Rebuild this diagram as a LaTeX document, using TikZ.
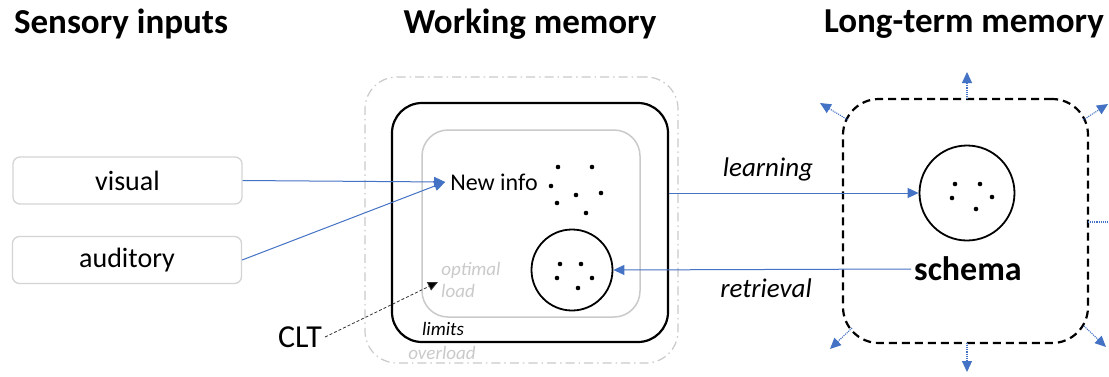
\documentclass[tikz,border=0pt]{standalone}
\usepackage{fontspec}
\setmainfont{Carlito}
\usetikzlibrary{arrows.meta,calc}
\definecolor{arrblue}{HTML}{4472C4}
\definecolor{lgray}{HTML}{CACACA}
\definecolor{boxgray}{HTML}{D4D4D4}
\begin{document}
\begin{tikzpicture}[x=1pt,y=-1pt,
  title/.style={font=\fontsize{35}{38}\selectfont\bfseries, inner sep=0pt},
  inbox/.style={draw=boxgray, line width=1.3pt, rounded corners=7pt, minimum width=229pt, minimum height=47pt, font=\fontsize{28}{30}\selectfont},
  bluearrow/.style={draw=arrblue, line width=1pt, -{Triangle[length=11pt,width=10pt]}},
  lbl/.style={font=\fontsize{27}{30}\selectfont\itshape, inner sep=0pt},
  small/.style={font=\fontsize{19}{21}\selectfont\itshape, inner sep=0pt},
  expand/.style={draw=arrblue, line width=1.1pt, densely dotted, -{Triangle[length=11pt,width=10pt,fill=arrblue]}},
  dot/.style={fill=black},
]
\useasboundingbox[fill=white] (0,0) rectangle (1109,376);

% titles
\node[title] (t1) at (121,24) {Sensory inputs};
\node[title] (t2) at (530,24) {Working memory};
\node[title] (t3) at (964,24) {Long-term memory};

% sensory inputs
\node[inbox] (vis) at (127.5,180.5) {visual};
\node[inbox] (aud) at (127,260) {auditory};
\node[font=\fontsize{32}{34}\selectfont, inner sep=3pt] (clt) at (300,337) {CLT};

% working memory
\node[draw=lgray, line width=1.2pt, dash pattern=on 9pt off 4pt on 1.5pt off 4pt, rounded corners=32pt, minimum width=313pt, minimum height=286pt] (wmouter) at (521.5,220) {};
\node[draw=black, line width=2.2pt, rounded corners=30pt, minimum width=276pt, minimum height=239pt] (wmmid) at (530,222.5) {};
\node[draw=lgray, line width=1.5pt, rounded corners=26pt, minimum width=218pt, minimum height=187pt] (wminner) at (531,223.5) {};
\node[font=\fontsize{24}{26}\selectfont, inner sep=5pt] (newinfo) at (494,182) {New info};
\node[draw=black, line width=1.8pt, circle, minimum size=81pt, inner sep=0pt] (wmcirc) at (572,270) {};
\foreach \p in {(558,167),(592,167),(551,186),(576,195),(601,193),(557,203),(586,213),(560,264),(581,264),(557,278),(592,278),(578,288)}
  \fill[dot] \p circle (2.3pt);
\node[small, text=lgray] (opt) at (471,270) {optimal};
\node[small, text=lgray] (load) at (458,291) {load};
\node[small, text=black] (limits) at (443,329) {limits};
\node[small, text=lgray] (overload) at (442,353) {overload};
\coordinate (cltip) at (438,282);

% long-term memory
\node[draw=black, line width=2.2pt, dash pattern=on 8pt off 5pt, rounded corners=36pt, minimum width=245pt, minimum height=244pt] (ltm) at (965.5,221) {};
\node[draw=black, line width=1.8pt, circle, minimum size=95pt, inner sep=0pt] (ltmcirc) at (967,193) {};
\foreach \p in {(955,184),(980,184),(952,198),(992,197),(976,209)}
  \fill[dot] \p circle (2.3pt);
\node[font=\fontsize{34}{36}\selectfont\bfseries, inner sep=3pt] (schema) at (968,269) {schema};

% labels
\node[lbl] (learning) at (768,169) {learning};
\node[lbl] (retrieval) at (766,288) {retrieval};

% connectors
\draw[bluearrow] (vis.east) -- (newinfo.west);
\draw[bluearrow] (aud.east) -- (newinfo.west);
\draw[bluearrow] (wmmid.east |- ltmcirc.west) -- (ltmcirc.west);
\draw[bluearrow] (schema.west) -- (wmcirc.east);
\draw[black!80, line width=0.8pt, densely dashed, -{Triangle[length=10pt,width=9pt,fill=black]}] (clt.east) -- (cltip);

% expansion arrows
\coordinate (s1) at (967,99);   \coordinate (e1) at (967,72);
\coordinate (s2) at (967,343);  \coordinate (e2) at (967,372);
\coordinate (s3) at (848,120);  \coordinate (e3) at (820,103);
\coordinate (s4) at (1083,120); \coordinate (e4) at (1108,104);
\coordinate (s5) at (852,328);  \coordinate (e5) at (830,349);
\coordinate (s6) at (1084,326); \coordinate (e6) at (1106,347);
\coordinate (s7) at (1088,222); \coordinate (e7) at (1109,222);
\foreach \i in {1,...,6}
  \draw[expand] (s\i) -- (e\i);
\draw[draw=arrblue, line width=1.1pt, densely dotted] (s7) -- (e7);
\end{tikzpicture}
\end{document}
